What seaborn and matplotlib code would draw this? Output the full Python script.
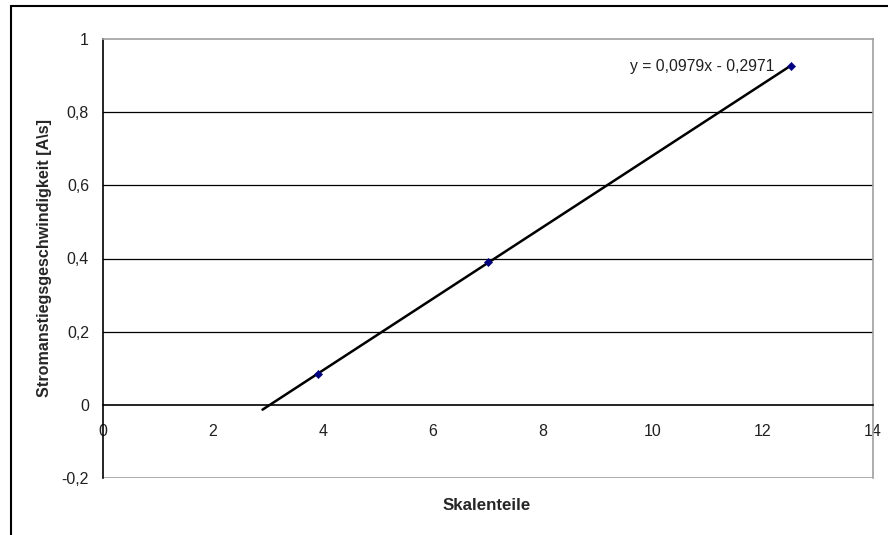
import numpy as np
import pandas as pd
import matplotlib
matplotlib.use("Agg")
import matplotlib.pyplot as plt
import matplotlib.ticker as mticker
from matplotlib.patches import Rectangle
import seaborn as sns

# Messwerte
skalenteile = [3.9, 7.0, 12.5]
stromanstieg = [0.085, 0.39, 0.925]

# Trendlinie (Excel, linear, 1 Einheit rückwärts)
fit_slope = 0.0979
fit_intercept = -0.2971
trend_x = [2.9, 12.5]

x_ticks = [0, 2, 4, 6, 8, 10, 12, 14]
y_ticks = [-0.2, 0, 0.2, 0.4, 0.6, 0.8, 1]
grid_y = [0.2, 0.4, 0.6, 0.8]

sns.set_theme(style="white")
plt.rcParams['font.family'] = ['Liberation Sans', 'DejaVu Sans']

fig = plt.figure(figsize=(8.88, 5.35), dpi=100)
ax = fig.add_axes([103 / 888, 1 - 478 / 535, 770 / 888, 439 / 535])

df = pd.DataFrame({'x': skalenteile, 'y': stromanstieg})
trend = pd.DataFrame({'x': trend_x,
                      'y': [fit_slope * v + fit_intercept for v in trend_x]})

for gy in grid_y:
    ax.axhline(gy, color='black', lw=0.9, zorder=1)
ax.axhline(-0.2, color='#a0a0a0', lw=1.2, zorder=1)

sns.lineplot(data=trend, x='x', y='y', color='black', lw=1.8, ax=ax, zorder=3)
sns.scatterplot(data=df, x='x', y='y', marker='D', s=18, color='#000080',
                edgecolor='#000080', ax=ax, zorder=4)

ax.set_xlim(0, 14)
ax.set_ylim(-0.2, 1)
ax.set_xticks(x_ticks)
ax.set_yticks(y_ticks)

fmt = mticker.FuncFormatter(lambda v, p: f'{v:g}'.replace('.', ','))
ax.xaxis.set_major_formatter(fmt)
ax.yaxis.set_major_formatter(fmt)

ax.spines['bottom'].set_position(('data', 0))
ax.spines['bottom'].set_color('black')
ax.spines['left'].set_color('black')
ax.spines['top'].set_color('#a0a0a0')
ax.spines['right'].set_color('#a0a0a0')
for s in ax.spines.values():
    s.set_linewidth(1.2)

ax.tick_params(axis='both', direction='out', length=4, width=1, color='black',
               labelsize=11.5, labelcolor='#202020')
ax.tick_params(axis='x', pad=10)
ax.tick_params(axis='y', pad=6)
ax.set_xlabel('')
ax.set_ylabel('')

ax.text(12.2, 0.925, 'y = 0,0979x - 0,2971', ha='right', va='center',
        fontsize=11.3, color='#202020')

fig.text(487 / 888, 1 - 506 / 535, 'Skalenteile', ha='center', va='center',
         fontsize=12.2, fontweight='bold')
fig.text(45 / 888, 1 - 258 / 535, 'Stromanstiegsgeschwindigkeit [A\\s]',
         ha='center', va='center', rotation=90, fontsize=11.6, fontweight='bold')

fig.patches.append(Rectangle((11 / 888, -0.1), 2, 1 - 6 / 535 + 0.1,
                             transform=fig.transFigure, fill=False,
                             edgecolor='black', lw=1.5))

fig.savefig('out.png', dpi=100)
plt.close(fig)
